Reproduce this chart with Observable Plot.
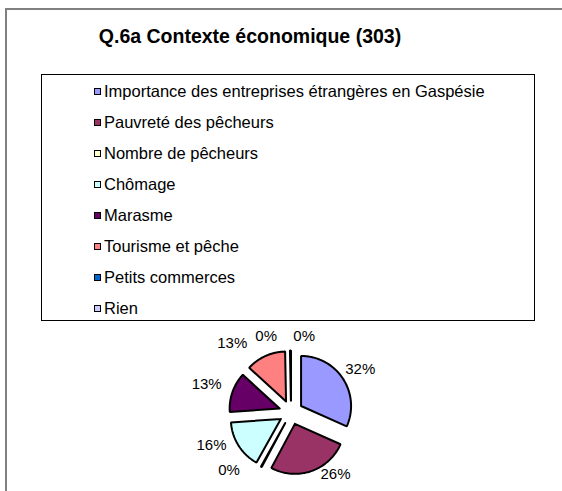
<!DOCTYPE html>
<html>
<head>
<meta charset="utf-8">
<script src="https://cdn.jsdelivr.net/npm/d3@7"></script>
<script src="https://cdn.jsdelivr.net/npm/@observablehq/plot@0.6"></script>
<style>
  html, body { margin: 0; padding: 0; background: #fff; }
  body { width: 562px; height: 491px; position: relative; overflow: hidden; font-family: "Liberation Sans", Arial, sans-serif; }
  #frame { position: absolute; left: 5px; top: 8px; width: 700px; height: 600px; border-left: 2px solid #808080; border-top: 2px solid #808080; }
  #title { position: absolute; left: 0; top: 25px; width: 500px; text-align: center; font-weight: bold; font-size: 19.5px; color: #000; white-space: nowrap; }
  #legend { position: absolute; left: 41px; top: 74px; width: 494px; height: 247px; border: 1px solid #000; box-sizing: border-box; }
  .row { position: absolute; left: 52px; height: 20px; line-height: 20px; font-size: 16.5px; color: #000; white-space: nowrap; }
  .sw { display: inline-block; width: 5px; height: 5px; border: 1.6px solid #000; vertical-align: middle; margin-right: 3px; position: relative; top: -1px; }
  #pie { position: absolute; left: 0; top: 320px; }
</style>
</head>
<body>
<div id="frame"></div>
<div id="title"></div>
<div id="legend"></div>
<div id="pie"></div>
<script>
const titleText = "Q.6a Contexte économique (303)";
const categories = [
  "Importance des entreprises étrangères en Gaspésie",
  "Pauvreté des pêcheurs",
  "Nombre de pêcheurs",
  "Chômage",
  "Marasme",
  "Tourisme et pêche",
  "Petits commerces",
  "Rien"
];
const values = [31.7, 26.1, 0.3, 15.8, 12.9, 12.9, 0.3, 0];
const colors = ["#9999FF", "#993366", "#FFFFCC", "#CCFFFF", "#660066", "#FF8080", "#0066CC", "#CCCCFF"];

document.getElementById("title").textContent = titleText;

// Legend
const legend = document.getElementById("legend");
categories.forEach((c, i) => {
  const row = document.createElement("div");
  row.className = "row";
  row.style.top = (5.5 + i * 31) + "px";
  const sw = document.createElement("span");
  sw.className = "sw";
  sw.style.background = colors[i];
  row.appendChild(sw);
  row.appendChild(document.createTextNode(c));
  legend.appendChild(row);
});

// Pie geometry (units: pie radius = 1)
const W = 562, H = 171;
const R = 50;              // px per unit (pie radius)
const cx = 290.5, cy = 92; // center in svg px
const E = 12 / R;          // explode offset
const arcs = d3.pie().sort(null).value(d => d)(values);

const slices = arcs.map((a, i) => {
  const mid = (a.startAngle + a.endAngle) / 2;
  const ox = E * Math.sin(mid), oy = E * Math.cos(mid);
  const pts = [{x: ox, y: oy}];
  const n = Math.max(1, Math.ceil((a.endAngle - a.startAngle) / (Math.PI / 180)));
  for (let k = 0; k <= n; k++) {
    const t = a.startAngle + (a.endAngle - a.startAngle) * k / n;
    pts.push({x: ox + Math.sin(t), y: oy + Math.cos(t)});
  }
  pts.push({x: ox, y: oy});
  return {pts, color: colors[i]};
});

// Labels (placed outside each slice, pushed sideways like the spreadsheet layout)
const labels = arcs.map((a, i) => {
  const mid = (a.startAngle + a.endAngle) / 2;
  const s = Math.sin(mid), c = Math.cos(mid);
  const push = 34 * Math.sign(s) * Math.min(1, Math.abs(s) * 4);
  const px = -5 + 48 * s + push;
  const py = 5 + 71 * c;
  return {x: px / R, y: py / R, text: Math.round(values[i]) + "%"};
});
// simple overlap resolution
for (let i = 0; i < labels.length; i++) {
  for (let j = i + 1; j < labels.length; j++) {
    const dx = Math.abs(labels[i].x - labels[j].x) * R, dy = Math.abs(labels[i].y - labels[j].y) * R;
    if (dx < 30 && dy < 14) {
      const need = (38 - dx) / 2 / R;
      labels[i].x -= need; labels[j].x += need;
    }
  }
}

const chart = Plot.plot({
  width: W, height: H, margin: 0,
  style: {background: "transparent", overflow: "visible"},
  x: {domain: [-cx / R, (W - cx) / R], range: [0, W], axis: null},
  y: {domain: [-(H - cy) / R, cy / R], range: [H, 0], axis: null},
  marks: [
    ...slices.map(s => Plot.line(s.pts, {x: "x", y: "y", fill: s.color, stroke: "#000", strokeWidth: 2, curve: "linear", strokeLinejoin: "miter"})),
    Plot.text(labels, {x: "x", y: "y", text: "text", fontSize: 15, fill: "#000", fontFamily: "Liberation Sans, Arial, sans-serif"})
  ]
});
document.getElementById("pie").appendChild(chart);
</script>
</body>
</html>
